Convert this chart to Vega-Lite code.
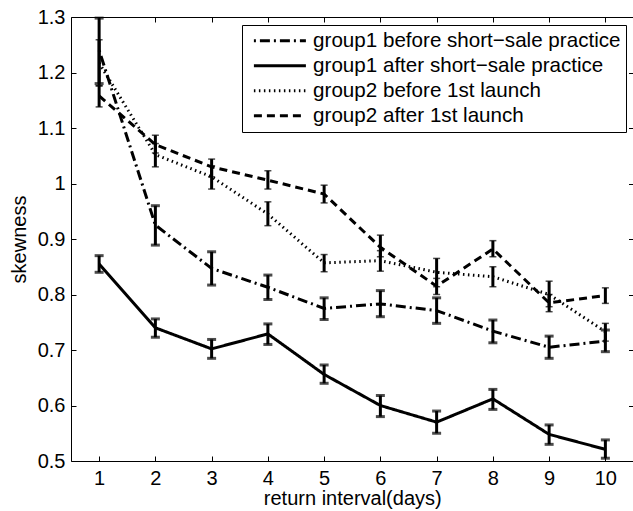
{
  "$schema": "https://vega.github.io/schema/vega-lite/v6.json",
  "width": 562.5,
  "height": 444,
  "autosize": {"type": "none"},
  "padding": {"left": 71, "top": 17, "right": 0, "bottom": 50},
  "config": {
    "font": "Liberation Sans",
    "view": {"stroke": "black", "strokeWidth": 1},
    "axis": {
      "domain": false,
      "grid": false,
      "tickColor": "black",
      "tickSize": -5,
      "tickWidth": 1,
      "labelColor": "black",
      "labelFont": "Liberation Sans",
      "labelFontSize": 20,
      "titleFont": "Liberation Sans",
      "titleFontSize": 20,
      "titleFontWeight": "normal",
      "titleColor": "black"
    },
    "legend": {
      "labelFont": "Liberation Sans",
      "labelFontSize": 20.6,
      "labelColor": "black",
      "labelLimit": 500
    }
  },
  "datasets": {
    "d": [
      {"x": 1, "series": "group1 before short−sale practice", "grp": "g1", "y": 1.24, "lo": 1.18, "hi": 1.298},
      {"x": 2, "series": "group1 before short−sale practice", "grp": "g1", "y": 0.925, "lo": 0.889, "hi": 0.96},
      {"x": 3, "series": "group1 before short−sale practice", "grp": "g1", "y": 0.847, "lo": 0.817, "hi": 0.877},
      {"x": 4, "series": "group1 before short−sale practice", "grp": "g1", "y": 0.813, "lo": 0.791, "hi": 0.835},
      {"x": 5, "series": "group1 before short−sale practice", "grp": "g1", "y": 0.775, "lo": 0.755, "hi": 0.794},
      {"x": 6, "series": "group1 before short−sale practice", "grp": "g1", "y": 0.783, "lo": 0.76, "hi": 0.807},
      {"x": 7, "series": "group1 before short−sale practice", "grp": "g1", "y": 0.771, "lo": 0.748, "hi": 0.794},
      {"x": 8, "series": "group1 before short−sale practice", "grp": "g1", "y": 0.734, "lo": 0.713, "hi": 0.754},
      {"x": 9, "series": "group1 before short−sale practice", "grp": "g1", "y": 0.705, "lo": 0.685, "hi": 0.725},
      {"x": 10, "series": "group1 before short−sale practice", "grp": "g1", "y": 0.716, "lo": 0.697, "hi": 0.736},
      {"x": 1, "series": "group1 after short−sale practice", "grp": "g1", "y": 0.855, "lo": 0.84, "hi": 0.87},
      {"x": 2, "series": "group1 after short−sale practice", "grp": "g1", "y": 0.74, "lo": 0.723, "hi": 0.756},
      {"x": 3, "series": "group1 after short−sale practice", "grp": "g1", "y": 0.702, "lo": 0.685, "hi": 0.719},
      {"x": 4, "series": "group1 after short−sale practice", "grp": "g1", "y": 0.729, "lo": 0.71, "hi": 0.747},
      {"x": 5, "series": "group1 after short−sale practice", "grp": "g1", "y": 0.656, "lo": 0.64, "hi": 0.673},
      {"x": 6, "series": "group1 after short−sale practice", "grp": "g1", "y": 0.6, "lo": 0.58, "hi": 0.618},
      {"x": 7, "series": "group1 after short−sale practice", "grp": "g1", "y": 0.57, "lo": 0.55, "hi": 0.59},
      {"x": 8, "series": "group1 after short−sale practice", "grp": "g1", "y": 0.612, "lo": 0.593, "hi": 0.629},
      {"x": 9, "series": "group1 after short−sale practice", "grp": "g1", "y": 0.548, "lo": 0.53, "hi": 0.565},
      {"x": 10, "series": "group1 after short−sale practice", "grp": "g1", "y": 0.521, "lo": 0.505, "hi": 0.538},
      {"x": 1, "series": "group2 before 1st launch", "grp": "g2", "y": 1.217, "lo": 1.176, "hi": 1.259},
      {"x": 2, "series": "group2 before 1st launch", "grp": "g2", "y": 1.052, "lo": 1.03, "hi": 1.072},
      {"x": 3, "series": "group2 before 1st launch", "grp": "g2", "y": 1.012, "lo": 0.99, "hi": 1.032},
      {"x": 4, "series": "group2 before 1st launch", "grp": "g2", "y": 0.945, "lo": 0.924, "hi": 0.967},
      {"x": 5, "series": "group2 before 1st launch", "grp": "g2", "y": 0.857, "lo": 0.841, "hi": 0.872},
      {"x": 6, "series": "group2 before 1st launch", "grp": "g2", "y": 0.861, "lo": 0.842, "hi": 0.879},
      {"x": 7, "series": "group2 before 1st launch", "grp": "g2", "y": 0.84, "lo": 0.814, "hi": 0.865},
      {"x": 8, "series": "group2 before 1st launch", "grp": "g2", "y": 0.832, "lo": 0.814, "hi": 0.85},
      {"x": 9, "series": "group2 before 1st launch", "grp": "g2", "y": 0.8, "lo": 0.778, "hi": 0.824},
      {"x": 10, "series": "group2 before 1st launch", "grp": "g2", "y": 0.733, "lo": 0.716, "hi": 0.748},
      {"x": 1, "series": "group2 after 1st launch", "grp": "g2", "y": 1.158, "lo": 1.138, "hi": 1.176},
      {"x": 2, "series": "group2 after 1st launch", "grp": "g2", "y": 1.07, "lo": 1.055, "hi": 1.087},
      {"x": 3, "series": "group2 after 1st launch", "grp": "g2", "y": 1.03, "lo": 1.012, "hi": 1.044},
      {"x": 4, "series": "group2 after 1st launch", "grp": "g2", "y": 1.006, "lo": 0.99, "hi": 1.023},
      {"x": 5, "series": "group2 after 1st launch", "grp": "g2", "y": 0.981, "lo": 0.965, "hi": 0.997},
      {"x": 6, "series": "group2 after 1st launch", "grp": "g2", "y": 0.885, "lo": 0.868, "hi": 0.907},
      {"x": 7, "series": "group2 after 1st launch", "grp": "g2", "y": 0.815, "lo": 0.8, "hi": 0.829},
      {"x": 8, "series": "group2 after 1st launch", "grp": "g2", "y": 0.882, "lo": 0.868, "hi": 0.897},
      {"x": 9, "series": "group2 after 1st launch", "grp": "g2", "y": 0.785, "lo": 0.769, "hi": 0.8},
      {"x": 10, "series": "group2 after 1st launch", "grp": "g2", "y": 0.798, "lo": 0.784, "hi": 0.812}
    ]
  },
  "data": {"name": "d"},
  "layer": [
    {
      "mark": {"type": "line", "color": "black", "strokeCap": "butt"},
      "encoding": {
        "x": {
          "field": "x", "type": "quantitative",
          "scale": {"domain": [0.5, 10.5], "nice": false, "zero": false},
          "axis": {"values": [1, 2, 3, 4, 5, 6, 7, 8, 9, 10], "title": "return interval(days)", "labelPadding": 12.5, "titlePadding": 0}
        },
        "y": {
          "field": "y", "type": "quantitative",
          "scale": {"domain": [0.5, 1.3], "nice": false, "zero": false},
          "axis": {"values": [0.5, 0.6, 0.7, 0.8, 0.9, 1, 1.1, 1.2, 1.3], "format": "~g", "title": "skewness", "labelPadding": 11, "titlePadding": 8}
        },
        "strokeDash": {
          "field": "series", "type": "nominal",
          "scale": {
            "domain": ["group1 before short−sale practice", "group1 after short−sale practice", "group2 before 1st launch", "group2 after 1st launch"],
            "range": [[2, 4, 10, 4], [1, 0], [1.5, 3.5], [8, 5]]
          },
          "legend": {"title": null, "orient": "none", "legendX": 171, "legendY": 8, "symbolType": "M-0.6,0H7.4", "symbolSize": 169, "symbolStrokeColor": "black", "strokeColor": "black", "fillColor": "white", "padding": 5.5, "labelOffset": 45, "rowPadding": 4}
        },
        "strokeWidth": {
          "field": "series", "type": "nominal",
          "scale": {
            "domain": ["group1 before short−sale practice", "group1 after short−sale practice", "group2 before 1st launch", "group2 after 1st launch"],
            "range": [3, 3, 1, 1.5]
          },
          "legend": {"title": null, "orient": "none", "legendX": 171, "legendY": 8, "symbolType": "M-0.6,0H7.4", "symbolSize": 169, "symbolStrokeColor": "black", "strokeColor": "black", "fillColor": "white", "padding": 5.5, "labelOffset": 45, "rowPadding": 4}
        }
      }
    },
    {
      "mark": {"type": "rule", "color": "black"},
      "encoding": {
        "x": {"field": "x", "type": "quantitative", "axis": null},
        "y": {"field": "lo", "type": "quantitative", "axis": null},
        "y2": {"field": "hi"},
        "strokeWidth": {"field": "series", "type": "nominal", "legend": null}
      }
    },
    {
      "transform": [{"filter": "datum.grp == 'g1'"}, {"fold": ["lo", "hi"], "as": ["k", "v"]}],
      "mark": {"type": "tick", "color": "black", "orient": "horizontal", "size": 9, "thickness": 3},
      "encoding": {
        "x": {"field": "x", "type": "quantitative", "axis": null},
        "y": {"field": "v", "type": "quantitative", "axis": null}
      }
    },
    {
      "transform": [{"filter": "datum.grp == 'g2'"}, {"fold": ["lo", "hi"], "as": ["k", "v"]}],
      "mark": {"type": "tick", "color": "black", "orient": "horizontal", "size": 7, "thickness": 1.5},
      "encoding": {
        "x": {"field": "x", "type": "quantitative", "axis": null},
        "y": {"field": "v", "type": "quantitative", "axis": null}
      }
    },
    {
      "mark": {"type": "point", "opacity": 0},
      "encoding": {
        "x": {"field": "x", "type": "quantitative", "axis": {"orient": "top", "values": [1, 2, 3, 4, 5, 6, 7, 8, 9, 10], "labels": false, "title": null}},
        "y": {"field": "y", "type": "quantitative", "axis": {"orient": "right", "values": [0.5, 0.6, 0.7, 0.8, 0.9, 1, 1.1, 1.2, 1.3], "labels": false, "title": null}}
      }
    }
  ],
  "resolve": {"axis": {"x": "independent", "y": "independent"}}
}
